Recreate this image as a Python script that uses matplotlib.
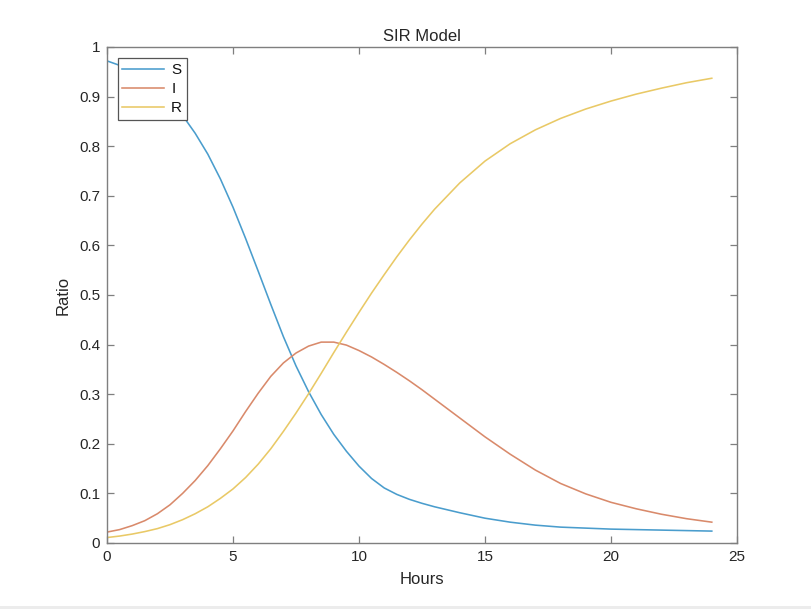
import matplotlib
matplotlib.use("Agg")
import matplotlib.pyplot as plt
from matplotlib.patches import Rectangle

hours = [0, 0.5, 1, 1.5, 2, 2.5, 3, 3.5, 4, 4.5, 5, 5.5, 6, 6.5, 7, 7.5, 8, 8.5,
         9, 9.5, 10, 10.5, 11, 11.5, 12, 12.5, 13, 14, 15, 16, 17, 18, 19, 20,
         21, 22, 23, 24]
S = [0.972, 0.963, 0.951, 0.936, 0.917, 0.893, 0.862, 0.826, 0.784, 0.734,
     0.677, 0.614, 0.548, 0.481, 0.416, 0.357, 0.305, 0.259, 0.219, 0.185,
     0.155, 0.130, 0.111, 0.098, 0.088, 0.080, 0.073, 0.061, 0.050, 0.042,
     0.036, 0.032, 0.030, 0.028, 0.027, 0.026, 0.025, 0.024]
I = [0.022, 0.027, 0.035, 0.045, 0.059, 0.077, 0.100, 0.126, 0.156, 0.190,
     0.226, 0.265, 0.302, 0.336, 0.363, 0.383, 0.397, 0.405, 0.405, 0.399,
     0.388, 0.375, 0.360, 0.344, 0.327, 0.309, 0.290, 0.252, 0.214, 0.179,
     0.147, 0.120, 0.099, 0.082, 0.069, 0.058, 0.049, 0.042]
R = [0.011, 0.014, 0.018, 0.023, 0.029, 0.037, 0.047, 0.059, 0.073, 0.090,
     0.109, 0.132, 0.159, 0.190, 0.225, 0.262, 0.301, 0.342, 0.384, 0.425,
     0.465, 0.504, 0.541, 0.577, 0.611, 0.643, 0.673, 0.726, 0.770, 0.805,
     0.833, 0.856, 0.875, 0.891, 0.905, 0.917, 0.928, 0.937]
labels = ["S", "I", "R"]
colors = ["#4a9dcd", "#d98a6b", "#e9c966"]

plt.rcParams['font.family'] = ['Liberation Sans', 'DejaVu Sans']

fig = plt.figure(figsize=(8.12, 6.09), dpi=100)
ax = fig.add_axes([107/812, 66/609, 630/812, 496/609])

for y, lab, c in zip([S, I, R], labels, colors):
    ax.plot(hours, y, color=c, lw=1.15, label=lab)

ax.set_xlim(0, 25)
ax.set_ylim(0, 1)
ax.set_xticks([0, 5, 10, 15, 20, 25])
ax.set_yticks([0, 0.1, 0.2, 0.3, 0.4, 0.5, 0.6, 0.7, 0.8, 0.9, 1])
ax.set_yticklabels(["0", "0.1", "0.2", "0.3", "0.4", "0.5", "0.6", "0.7", "0.8", "0.9", "1"])

edge = "#7f7f7f"
for sp in ax.spines.values():
    sp.set_color(edge)
    sp.set_linewidth(1.0)
ax.tick_params(direction="in", top=True, right=True, length=5, width=0.9,
               color=edge, labelsize=11, labelcolor="#262626", pad=5)

ax.set_title("SIR Model", fontsize=12, color="#262626", pad=4)
ax.set_xlabel("Hours", fontsize=12, color="#262626", labelpad=6)
ax.set_ylabel("Ratio", fontsize=12, color="#262626", labelpad=6)

leg = ax.legend(loc="upper left", bbox_to_anchor=(0.017, 0.977), fontsize=11,
                handlelength=2.75, handletextpad=0.45, borderpad=0.3,
                labelspacing=0.33, fancybox=False, framealpha=1,
                edgecolor="#555555", borderaxespad=0)
leg.get_frame().set_linewidth(0.9)
for t in leg.get_texts():
    t.set_color("#111111")

fig.add_artist(Rectangle((0, 0), 1, 3/609, transform=fig.transFigure,
                         facecolor="#ececec", edgecolor="none"))

fig.savefig("out.png", dpi=100)
